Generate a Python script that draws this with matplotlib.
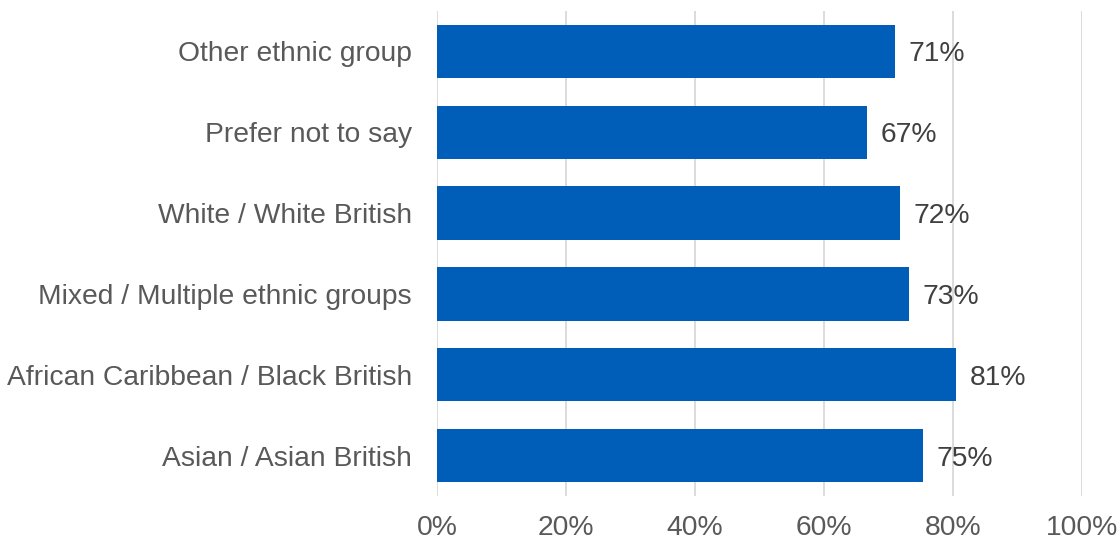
import matplotlib.pyplot as plt
import numpy as np

plt.rcParams['font.family'] = ['Liberation Sans', 'DejaVu Sans']

groups = ['Asian / Asian British', 'African Caribbean / Black British',
          'Mixed / Multiple ethnic groups', 'White / White British',
          'Prefer not to say', 'Other ethnic group']
values = [75.3, 80.5, 73.2, 71.8, 66.7, 71.0]
labels = ['75%', '81%', '73%', '72%', '67%', '71%']

fig = plt.figure(figsize=(11.19, 5.42), dpi=100)
ax = fig.add_axes([0.3905, 0.0849, 0.5765, 0.8948])

y = np.arange(len(groups))
ax.barh(y, values, height=0.66, color='#005EB8', zorder=3)
for yi, v, lab in zip(y, values, labels):
    ax.text(v + 2.1, yi, lab, va='center_baseline', ha='left', fontsize=20.3,
            color='#404040', zorder=4)

ax.set_xlim(0, 100)
ax.set_ylim(-0.5, len(groups) - 0.5)
ax.set_xticks([0, 20, 40, 60, 80, 100])
ax.set_xticklabels(['0%', '20%', '40%', '60%', '80%', '100%'])
ax.set_yticks(y)
ax.set_yticklabels(groups)
ax.tick_params(axis='both', length=0, labelsize=20.3, labelcolor='#595959')
ax.tick_params(axis='x', pad=14)
ax.tick_params(axis='y', pad=18)
ax.grid(axis='x', color='#d9d9d9', linewidth=1.3, zorder=0)
for s in ax.spines.values():
    s.set_visible(False)

fig.savefig('out.png', dpi=100)
